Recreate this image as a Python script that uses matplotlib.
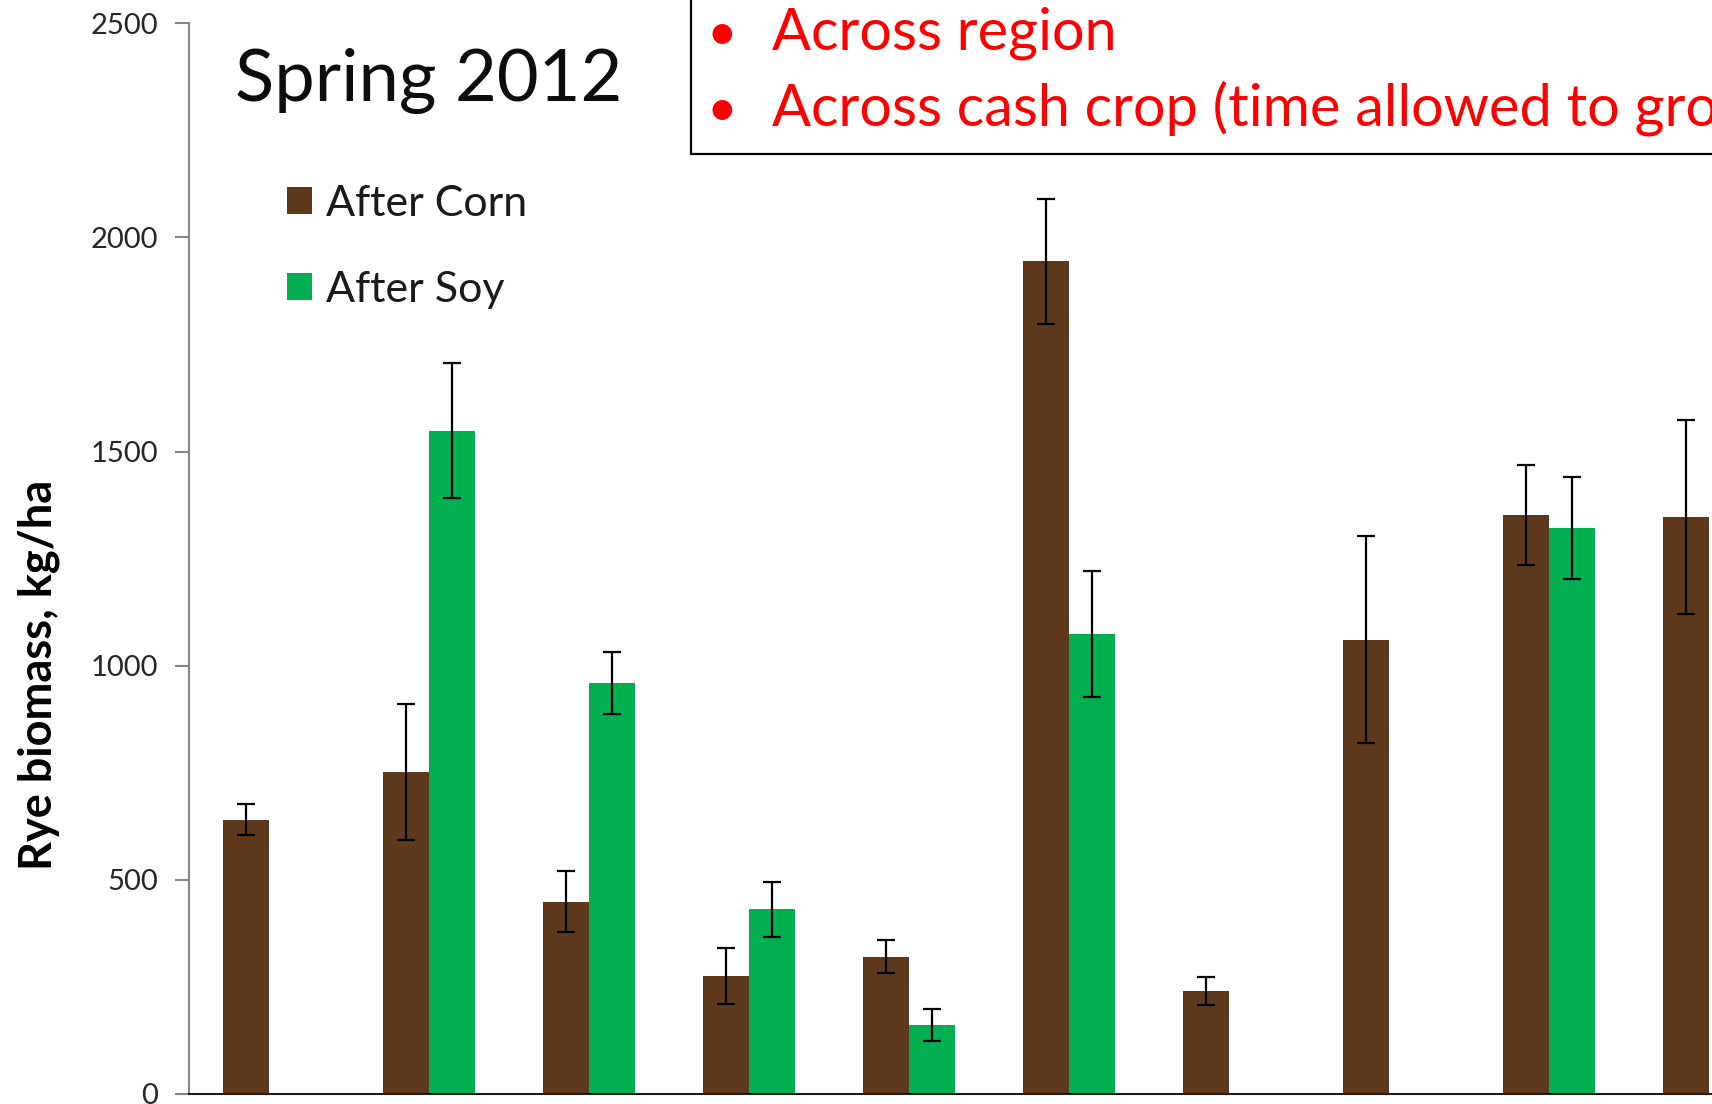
import numpy as np
import matplotlib
matplotlib.use("Agg")
import matplotlib.pyplot as plt
from matplotlib.patches import Rectangle

# Rye biomass (kg/ha) by site, spring 2012, with standard errors
sites = ["Site 1", "Site 2", "Site 3", "Site 4", "Site 5",
         "Site 6", "Site 7", "Site 8", "Site 9", "Site 10"]
after_corn = [640, 752, 449, 276, 321, 1944, 240, 1061, 1352, 1347]
after_corn_err = [36, 159, 71, 65, 38, 145, 33, 241, 117, 226]
after_soy = [np.nan, 1549, 959, 431, 161, 1074, np.nan, np.nan, 1322, np.nan]
after_soy_err = [np.nan, 158, 72, 64, 38, 147, np.nan, np.nan, 119, np.nan]
y_ticks = [0, 500, 1000, 1500, 2000, 2500]

bullets = ["Across region", "Across cash crop (time allowed to grow)"]

BROWN = "#5f391b"
GREEN = "#00b050"
FONT = "Lato"

W, H = 1712, 1104
fig = plt.figure(figsize=(W / 100, H / 100), dpi=100)


def fx(px):
    return px / W


def fy(py):
    return 1 - py / H


left, bottom, top = 188.7, 1094, 23.3
ax = fig.add_axes([fx(left), fy(bottom), 1 - fx(left), fy(top) - fy(bottom)])

x = np.arange(len(sites))
w = 0.2875
corn = np.array(after_corn, dtype=float)
corn_e = np.array(after_corn_err, dtype=float)
soy = np.array(after_soy, dtype=float)
soy_e = np.array(after_soy_err, dtype=float)
m = ~np.isnan(soy)

bc = ax.bar(x - w / 2, corn, w, color=BROWN, label="After Corn", zorder=2)
bs = ax.bar(x[m] + w / 2, soy[m], w, color=GREEN, label="After Soy", zorder=2)
ax.errorbar(x - w / 2, corn, yerr=corn_e, fmt="none", ecolor="black",
            elinewidth=1.6, capsize=6.5, capthick=1.6, zorder=3)
ax.errorbar(x[m] + w / 2, soy[m], yerr=soy_e[m], fmt="none", ecolor="black",
            elinewidth=1.6, capsize=6.5, capthick=1.6, zorder=3)

ax.set_xlim(-0.5, (W - left) / 160 - 0.5)
ax.set_ylim(0, 2500)
ax.set_yticks(y_ticks)
ax.set_yticklabels([str(t) for t in y_ticks], fontsize=21, family=FONT,
                   color="#262626")
ax.set_xticks([])
ax.tick_params(axis="y", length=10, width=1.5, color="#868686", pad=12)
for s in ("top", "right"):
    ax.spines[s].set_visible(False)
ax.spines["left"].set_color("#868686")
ax.spines["left"].set_linewidth(1.5)
ax.spines["bottom"].set_color("#1a1a1a")
ax.spines["bottom"].set_linewidth(1.5)

ax.set_ylabel("Rye biomass, kg/ha", fontsize=32.5, family=FONT,
              fontweight="bold", va="center")
ax.yaxis.set_label_coords(fx(39), fy(675), transform=fig.transFigure)

leg = ax.legend(handles=[bc, bs], loc="upper left",
                bbox_to_anchor=(fx(287), fy(185)), bbox_transform=fig.transFigure,
                frameon=False, borderpad=0, borderaxespad=0,
                prop={"family": FONT, "size": 31},
                handlelength=0.58, handleheight=0.58, handletextpad=0.32,
                labelspacing=1.11)
for t in leg.get_texts():
    t.set_color("#1a1a1a")

fig.text(fx(235), fy(101), "Spring 2012", fontsize=52, family=FONT,
         color="#0d0d0d", va="baseline", ha="left")

# Callout box with red bullet points
fig.patches.append(Rectangle((fx(691), fy(154)), 1, 1, transform=fig.transFigure,
                             facecolor="white", edgecolor="black", lw=1.6,
                             zorder=5))
for i, line in enumerate(bullets):
    yb = 50 + 76 * i
    fig.text(fx(722), fy(yb), "\u2022", fontsize=38, family=FONT, color="red",
             va="baseline", ha="center", zorder=6)
    fig.text(fx(772), fy(yb), line, fontsize=41.5, family=FONT, color="red",
             va="baseline", ha="left", zorder=6)

fig.savefig("out.png", dpi=100)
